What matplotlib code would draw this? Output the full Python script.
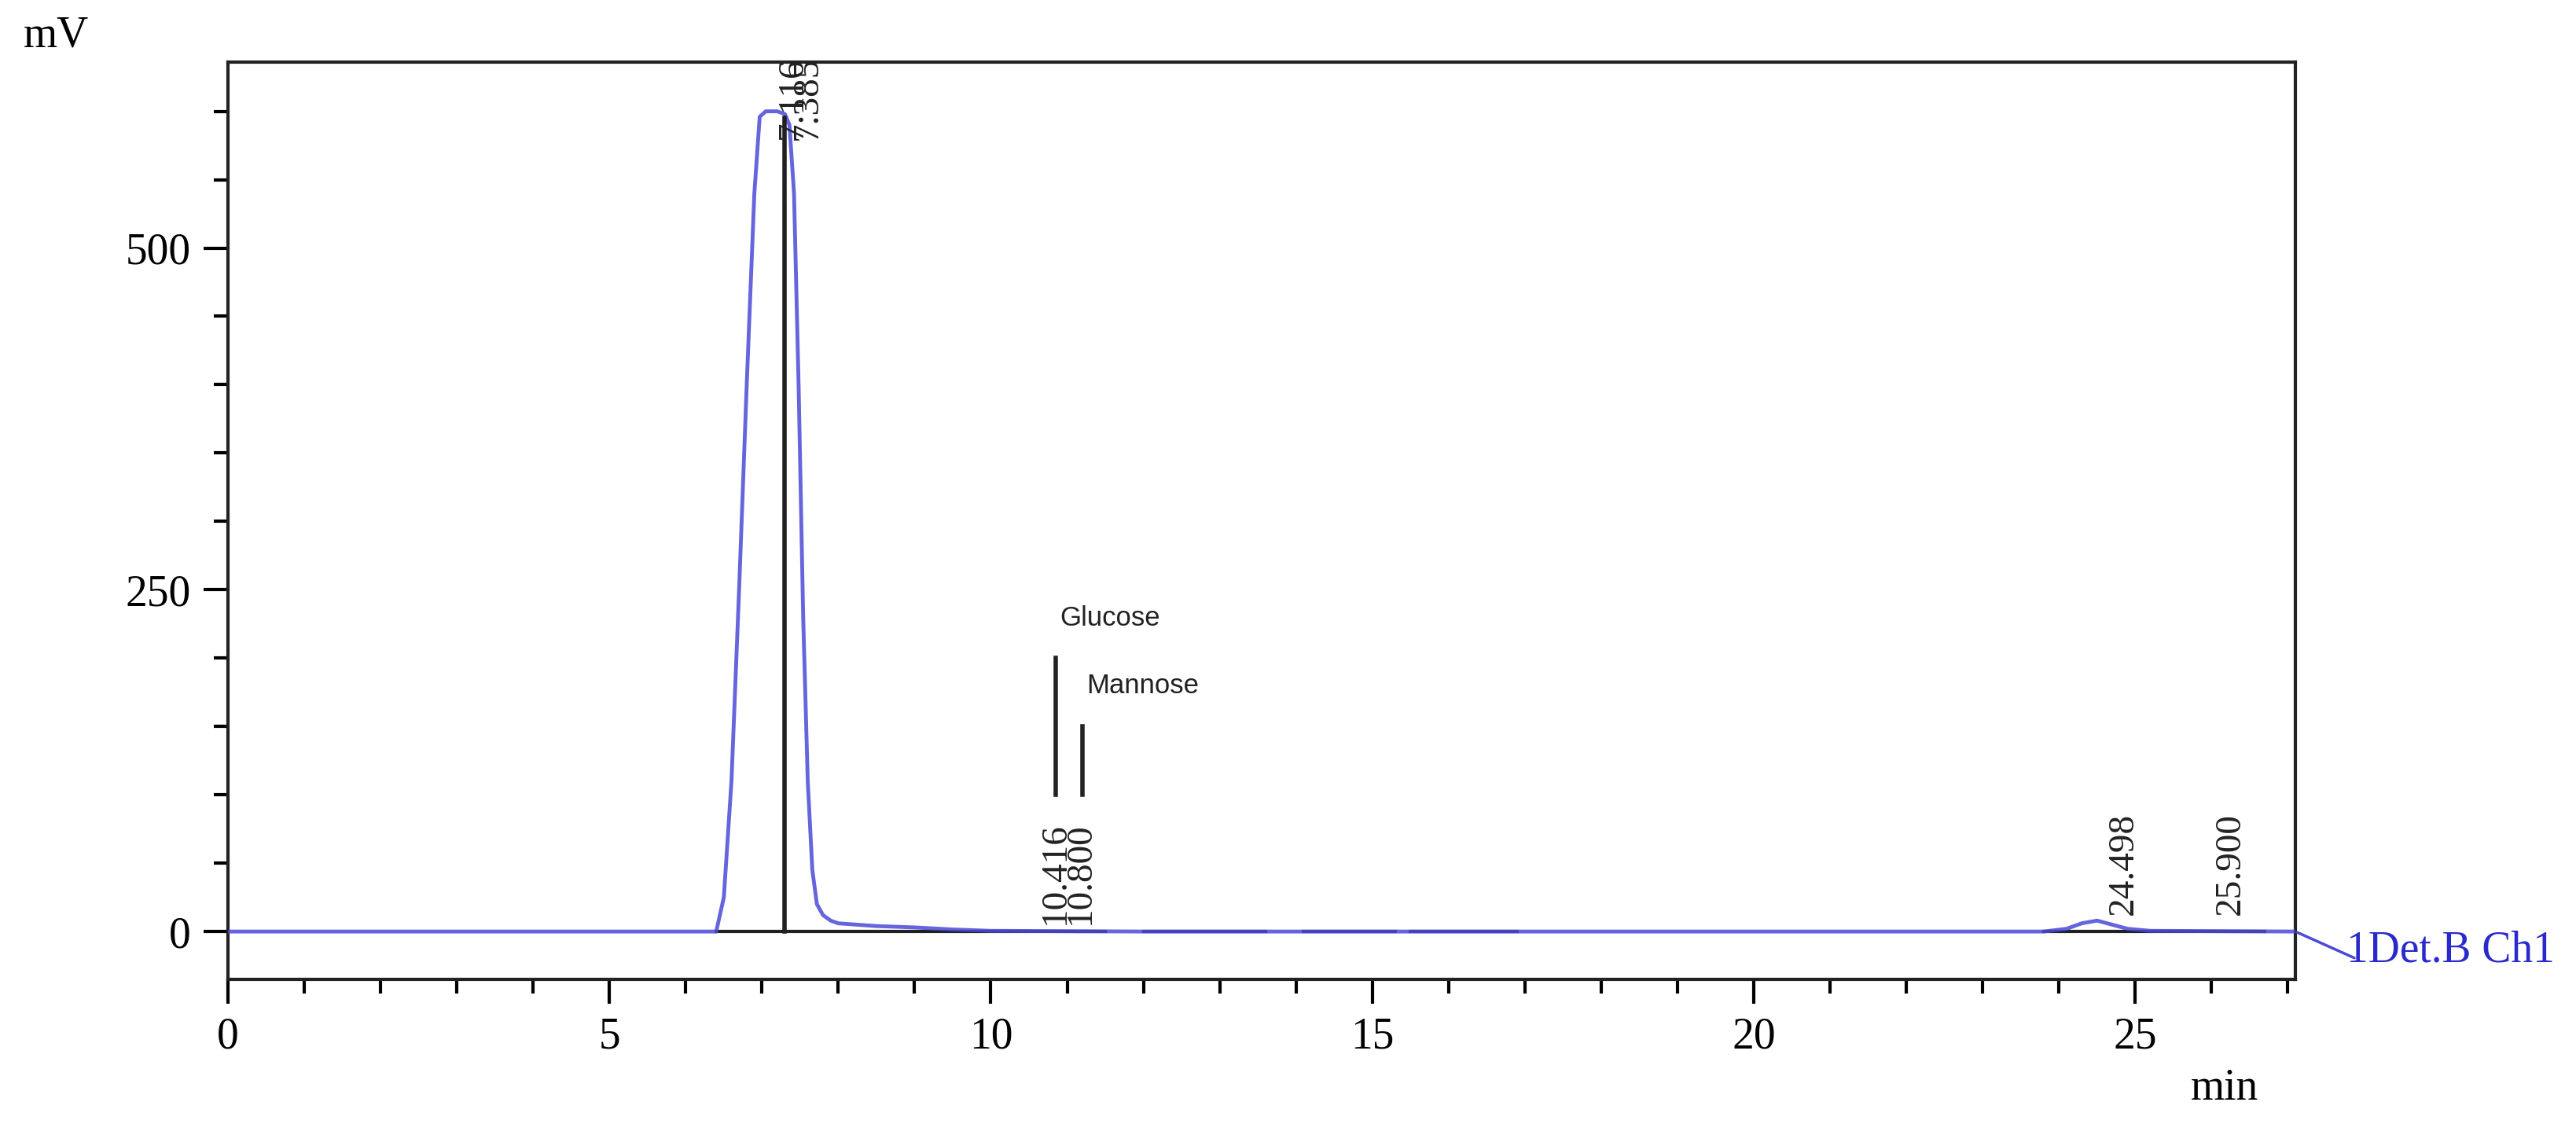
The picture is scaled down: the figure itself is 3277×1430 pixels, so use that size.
import matplotlib
matplotlib.use("Agg")
import matplotlib.pyplot as plt
import numpy as np

# chromatogram trace (min, mV)
time = [0.0, 6.0, 6.40, 6.50, 6.60, 6.70, 6.80, 6.90, 6.97, 7.05, 7.10, 7.20, 7.30, 7.36, 7.42, 7.48, 7.54, 7.60, 7.66, 7.72, 7.80, 7.90, 8.0, 8.5, 9.0, 9.5, 10.0, 12.0, 23.8, 24.1, 24.3, 24.5, 24.7, 24.9, 25.2, 27.1]
signal = [0.0, 0.0, 0.0, 25, 110, 250, 400, 540, 596, 600, 600, 600, 598, 590, 540, 400, 230, 110, 45, 20, 12, 8, 6, 4, 3, 1.5, 0.5, 0.0, 0.0, 2, 6, 8, 5, 2, 0.5, 0.0]
# black baseline segments (start, end)
base_start = [6.40, 12.0, 14.1, 15.5, 23.8]
base_end = [11.5, 13.6, 15.3, 16.9, 26.7]
# peak retention labels: text, x position, y position
peak_labels = ["7.116", "7.385", "10.416", "10.800", "24.498", "25.900"]
peak_x = [7.40, 7.60, 10.85, 11.18, 24.85, 26.25]
peak_y = [640, 640, 5, 5, 12, 12]
# compound markers
comp_names = ["Glucose", "Mannose"]
comp_x = [10.85, 11.20]
comp_low = [100, 100]
comp_high = [200, 150]

fig = plt.figure(figsize=(32.77, 14.30), dpi=100)
ax = fig.add_axes([290/3277, 1-1246/1430, (2920-290)/3277, (1246-79)/1430])
ax.set_xlim(0, 27.1)
ax.set_ylim(-35, 636)

for s, e in zip(base_start, base_end):
    ax.plot([s, e], [0, 0], color="#202020", lw=3, zorder=2)
ax.plot(time, signal, color="#4a4ad8", lw=3.5, alpha=0.85, zorder=3)
ax.plot([7.30, 7.30], [0, 595], color="#202020", lw=4, zorder=4)

for t, x, y in zip(peak_labels, peak_x, peak_y):
    ax.text(x, y, t, rotation=90, ha="center", va="top" if y > 600 else "bottom",
            family="Liberation Serif", fontsize=34, color="#222222", zorder=5)
for n, x, lo, hi in zip(comp_names, comp_x, comp_low, comp_high):
    ax.plot([x, x], [lo, hi], color="#222222", lw=4)
    ax.text(x + 0.05, hi + 20, n, family="Liberation Sans", fontsize=25, color="#222222", va="bottom")

ax.set_xticks([0, 5, 10, 15, 20, 25])
ax.set_xticks(np.arange(0, 28, 1), minor=True)
ax.set_yticks([0, 250, 500])
ax.set_yticks(np.arange(0, 601, 50), minor=True)
ax.tick_params(which="major", length=22, width=3, labelsize=40, pad=12, direction="out")
ax.tick_params(which="minor", length=13, width=3, direction="out")
for lab in ax.get_xticklabels() + ax.get_yticklabels():
    lab.set_family("Liberation Serif")
for sp in ax.spines.values():
    sp.set_linewidth(3)
    sp.set_color("#222222")

fig.text(30/3277, 1-45/1430, "mV", family="Liberation Serif", fontsize=40, va="center")
fig.text(2830/3277, 1-1385/1430, "min", family="Liberation Serif", fontsize=40, va="center", ha="center")
ax.annotate("", xy=(27.1, 0), xytext=(27.9, -20), annotation_clip=False,
            arrowprops=dict(arrowstyle="-", color="#4a4ad8", lw=2.5))
fig.text(2985/3277, 1-1210/1430, "1Det.B Ch1", family="Liberation Serif", fontsize=40,
         color="#2a2acc", va="center")

fig.savefig("out.png", dpi=100)
